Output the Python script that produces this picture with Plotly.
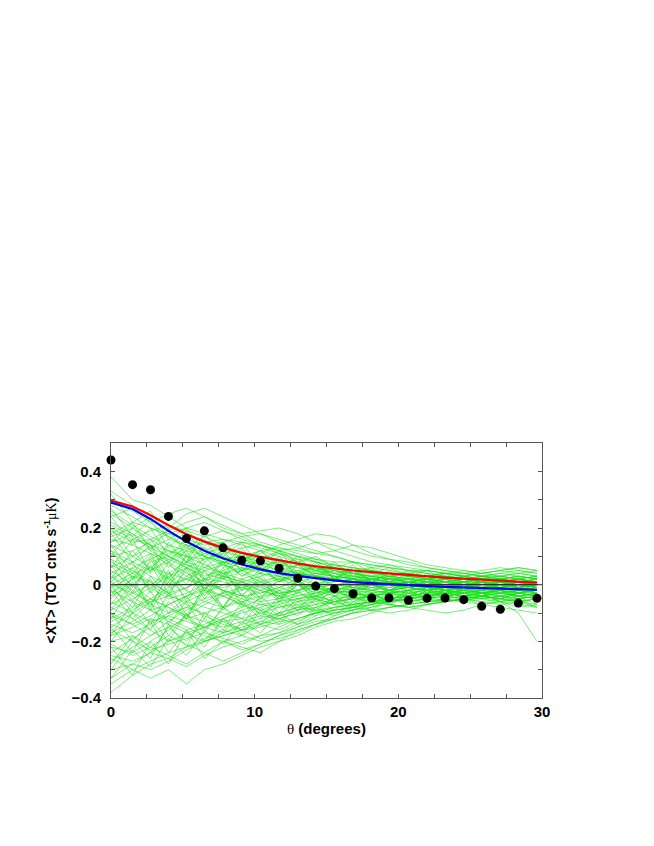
import plotly.graph_objects as go

# angular bins (degrees)
theta = [0, 1.5, 2.75, 4.0, 5.25, 6.5, 7.8, 9.1, 10.4, 11.7, 13.0, 14.25,
         15.55, 16.85, 18.15, 19.35, 20.7, 22.0, 23.25, 24.55, 25.8, 27.1, 28.35, 29.65]

# measured cross-correlation (black dots)
xt_data = [0.44, 0.353, 0.335, 0.241, 0.163, 0.19, 0.13, 0.086, 0.084, 0.058, 0.023, -0.005,
           -0.014, -0.032, -0.047, -0.047, -0.055, -0.048, -0.047, -0.053, -0.076, -0.087, -0.065, -0.048]

# model curves
model_red = [0.297, 0.276, 0.245, 0.21, 0.178, 0.152, 0.13, 0.112, 0.098, 0.085, 0.074, 0.065,
             0.057, 0.05, 0.044, 0.039, 0.034, 0.029, 0.025, 0.021, 0.017, 0.013, 0.01, 0.007]
model_blue = [0.29, 0.267, 0.232, 0.19, 0.152, 0.12, 0.093, 0.071, 0.054, 0.041, 0.031, 0.022,
              0.015, 0.009, 0.005, 0.001, -0.002, -0.005, -0.008, -0.01, -0.012, -0.014, -0.016, -0.018]

# simulated realisations (green), in units of 0.01
sims = [
    [38, 30, 28, 24, 20, 18, 16, 15, 14, 12, 10, 8, 7, 6, 5, 4, 3, 3, 4, 3, 2, 2, 3, 2],
    [-38, -32, -28, -26, -22, -20, -18, -16, -15, -13, -12, -10, -9, -8, -6, -5, -6, -5, -4, -5, -4, -6, -10, -20],
    [30, 26, 22, 25, 27, 24, 20, 18, 19, 20, 18, 15, 12, 10, 8, 7, 5, 4, 3, 2, 3, 2, 2, 1],
    [-35, -30, -33, -30, -35, -30, -28, -25, -22, -20, -18, -15, -13, -12, -10, -8, -7, -6, -6, -5, -5, -4, -5, -4],
    [20, 16, 14, 12, 10, 9, 11, 13, 14, 12, 10, 9, 8, 8, 7, 6, 5, 5, 4, 4, 3, 3, 2, 3],
    [-20, -18, -22, -25, -28, -24, -20, -22, -24, -20, -16, -14, -12, -10, -8, -6, -5, -4, -3, -4, -3, -2, -3, -4],
    [10, 12, 15, 18, 20, 22, 19, 16, 14, 12, 13, 15, 14, 12, 10, 9, 8, 6, 5, 4, 3, 3, 4, 5],
    [-10, -14, -18, -15, -12, -10, -8, -6, -4, -3, -2, -1, 0, 1, 2, 1, 0, -1, -2, -1, 0, 1, 0, -1],
    [5, 0, -5, -8, -12, -15, -17, -14, -12, -10, -8, -9, -10, -8, -6, -5, -4, -3, -2, -3, -4, -3, -2, -2],
    [-5, 2, 8, 10, 7, 4, 2, 0, -2, -4, -6, -5, -3, -2, -1, 0, 1, 2, 1, 0, -1, -2, -1, 0],
    [15, 18, 14, 10, 6, 2, -2, -4, -3, -1, 2, 4, 5, 3, 1, 0, -1, 0, 1, 2, 3, 2, 1, 2],
    [-15, -10, -6, -2, 3, 6, 8, 9, 7, 5, 4, 3, 2, 1, 0, -2, -3, -4, -3, -2, -3, -4, -5, -4],
    [25, 20, 16, 12, 8, 6, 4, 5, 6, 4, 2, 0, -2, -3, -2, -1, 0, 1, 0, -1, 0, 1, 2, 1],
    [-25, -27, -24, -20, -17, -15, -13, -12, -14, -16, -13, -10, -8, -7, -6, -5, -4, -3, -2, -2, -1, 0, -1, -2],
    [0, 4, 6, 2, -2, -6, -8, -5, -2, 1, 3, 5, 6, 4, 2, 1, 2, 3, 4, 3, 2, 1, 0, 1],
    [8, 4, 0, -4, -6, -8, -10, -12, -10, -8, -7, -6, -4, -3, -4, -5, -6, -5, -4, -3, -2, -3, -4, -5],
    [-8, -12, -16, -20, -18, -15, -12, -10, -8, -6, -4, -2, -1, -2, -3, -2, -1, 0, 1, 2, 1, 0, -1, -2],
    [12, 8, 5, 8, 12, 15, 16, 14, 12, 10, 8, 6, 5, 4, 3, 2, 2, 1, 0, -1, 0, 1, 0, -1],
    [-30, -28, -24, -26, -29, -25, -22, -20, -18, -17, -15, -13, -12, -10, -9, -8, -7, -6, -5, -4, -3, -3, -4, -5],
    [18, 22, 20, 17, 14, 10, 7, 4, 1, -2, -4, -3, -1, 1, 2, 3, 4, 5, 4, 3, 2, 3, 4, 3],
    [-18, -15, -12, -14, -17, -20, -18, -16, -13, -10, -8, -7, -6, -5, -6, -7, -8, -7, -6, -5, -6, -7, -6, -5],
    [3, -2, -7, -10, -8, -5, -3, -6, -9, -11, -9, -7, -5, -4, -3, -2, -1, -2, -3, -2, -1, 0, 1, 0],
    [-3, 2, 6, 11, 14, 13, 10, 8, 6, 3, 1, -1, -2, -1, 0, 1, 2, 3, 2, 1, 2, 3, 2, 1],
    [22, 18, 12, 8, 4, 1, -2, -5, -7, -8, -6, -4, -2, 0, 1, 2, 3, 2, 1, 0, -1, -2, -1, 0],
    [-22, -24, -20, -16, -11, -7, -4, -2, 0, 2, 3, 4, 3, 2, 1, 0, -1, -2, -3, -4, -3, -2, -3, -2],
    [6, 10, 13, 16, 14, 11, 9, 10, 12, 13, 11, 9, 7, 6, 5, 4, 4, 3, 2, 3, 4, 5, 6, 5],
    [-12, -8, -5, -8, -11, -13, -15, -13, -11, -12, -14, -12, -10, -9, -7, -5, -4, -3, -4, -5, -6, -5, -4, -3],
    [16, 14, 11, 7, 3, 0, -1, 1, 3, 5, 7, 6, 4, 2, 0, -2, -3, -2, -1, 0, 1, 2, 1, 0],
    [-16, -20, -23, -21, -19, -17, -19, -21, -18, -15, -12, -10, -9, -8, -7, -6, -5, -4, -3, -2, -3, -4, -3, -2],
    [28, 24, 20, 18, 16, 14, 15, 17, 18, 16, 14, 12, 10, 8, 6, 5, 4, 3, 4, 5, 4, 3, 2, 3],
    [1, -4, -9, -13, -16, -14, -11, -8, -5, -2, 0, -1, -3, -4, -2, 0, 1, 2, 3, 2, 1, 2, 1, 0],
    [-1, 3, 1, -3, -1, 2, 4, 6, 4, 2, 0, -2, -4, -5, -4, -3, -2, -1, 0, -1, -2, -1, 0, 1],
    [13, 16, 19, 21, 19, 17, 14, 11, 9, 7, 6, 5, 4, 5, 6, 7, 6, 5, 4, 3, 4, 5, 6, 5],
    [-13, -9, -5, -1, 2, 0, -2, -4, -6, -5, -3, -1, 0, -1, -2, -3, -4, -3, -2, -3, -4, -5, -6, -7],
    [9, 5, 1, -3, -7, -11, -14, -16, -14, -11, -9, -8, -6, -5, -4, -3, -4, -5, -6, -5, -4, -5, -6, -5],
    [-27, -22, -18, -13, -9, -6, -3, -1, 1, 3, 4, 3, 2, 1, 2, 3, 2, 1, 0, 1, 2, 1, 0, -1],
    [19, 15, 16, 19, 22, 24, 21, 18, 15, 13, 12, 11, 10, 8, 7, 6, 5, 4, 3, 2, 1, 2, 3, 2],
    [-6, -10, -13, -11, -8, -10, -13, -16, -19, -17, -14, -11, -9, -8, -9, -10, -9, -7, -6, -5, -4, -5, -6, -8],
    [4, 8, 11, 9, 6, 3, 5, 8, 10, 9, 7, 5, 3, 2, 1, 0, -1, -2, -1, 0, 1, 0, -1, 0],
    [-9, -5, -1, 3, 6, 9, 12, 10, 8, 6, 4, 2, 0, -1, -2, -3, -2, -1, -2, -3, -2, -1, -2, -3],
    [24, 27, 23, 20, 25, 27, 24, 21, 18, 15, 13, 11, 12, 14, 13, 11, 9, 7, 6, 5, 4, 5, 4, 3],
    [-24, -19, -15, -11, -13, -15, -12, -9, -7, -6, -5, -4, -6, -8, -7, -5, -3, -2, -1, -2, -3, -2, -1, -2],
    [11, 7, 3, 0, 2, 5, 7, 5, 2, -1, -3, -5, -7, -6, -4, -3, -2, -1, -2, -3, -4, -3, -2, -3],
    [-11, -14, -11, -7, -4, -2, -4, -7, -9, -7, -5, -3, -2, -3, -4, -2, 0, 1, 2, 1, 0, -1, -2, -1],
    [2, 6, 9, 12, 10, 7, 4, 2, 0, -3, -5, -4, -2, 0, 1, 2, 1, 0, -1, 0, 1, 2, 3, 2],
    [-2, -6, -9, -7, -4, -1, 2, 5, 7, 8, 6, 4, 3, 2, 1, 0, -1, -2, -1, 0, -1, -2, -3, -2],
    [33, 28, 22, 17, 13, 10, 8, 6, 5, 4, 5, 6, 5, 4, 3, 2, 1, 0, -1, 0, 1, 0, -1, -2],
    [-33, -28, -30, -27, -23, -20, -17, -15, -13, -14, -12, -10, -8, -7, -6, -7, -8, -7, -6, -5, -4, -3, -4, -3],
    [7, 3, -1, -5, -3, 0, 3, 1, -2, -4, -2, 0, 2, 3, 2, 1, 0, -1, 0, 1, 2, 1, 2, 3],
    [-7, -3, 0, 4, 8, 11, 13, 15, 13, 11, 9, 8, 6, 5, 4, 3, 2, 1, 2, 3, 2, 1, 0, 1],
    [14, 10, 6, 4, 2, -1, -4, -7, -10, -12, -10, -8, -6, -5, -4, -3, -2, -3, -4, -3, -2, -1, 0, -1],
    [-14, -17, -14, -10, -6, -3, 0, 2, 4, 3, 1, -1, -3, -2, -1, 0, 1, 0, -1, -2, -1, 0, 1, 0],
    [17, 20, 24, 21, 18, 15, 12, 9, 11, 14, 16, 18, 17, 14, 11, 9, 7, 6, 5, 4, 5, 6, 5, 4],
    [-17, -13, -9, -12, -15, -18, -20, -23, -21, -18, -15, -12, -10, -9, -8, -7, -8, -9, -10, -9, -7, -6, -7, -8],
    [0, -3, -6, -4, -1, 2, 1, -1, -3, -1, 1, 3, 2, 0, -1, -2, -1, 0, 1, 0, -1, 0, 1, 0],
    [21, 17, 13, 10, 7, 5, 3, 1, -1, -3, -2, 0, 1, 2, 3, 4, 3, 2, 1, 2, 3, 4, 3, 2],
    [-21, -25, -22, -18, -21, -24, -27, -24, -21, -18, -16, -14, -12, -10, -9, -8, -7, -6, -5, -4, -5, -6, -5, -4],
    [26, 21, 17, 14, 12, 10, 8, 7, 9, 11, 10, 8, 6, 4, 3, 2, 1, 2, 3, 2, 1, 0, 1, 2],
    [-4, 0, 5, 9, 13, 17, 19, 17, 14, 11, 8, 6, 4, 3, 2, 1, 0, -1, 0, 1, 0, -1, 0, -1],
    [-26, -30, -27, -24, -22, -19, -16, -18, -20, -19, -17, -14, -11, -9, -7, -6, -5, -4, -3, -4, -5, -4, -3, -2],
    [18, 8, 14, 2, 10, -2, 6, -4, 3, -6, 0, -5, -1, -6, -3, -7, -4, -6, -2, -5, -1, -3, 0, -2],
    [-18, -6, -14, -3, -12, 0, -8, 2, -5, 3, -2, 1, -4, 0, -3, 1, -2, 2, -1, 1, -2, 0, -3, -1],
    [6, 16, 4, 14, 8, 18, 10, 15, 6, 12, 4, 9, 2, 7, 1, 5, 0, 4, -1, 3, 0, 2, -1, 1],
    [-30, -20, -26, -14, -22, -10, -16, -6, -12, -4, -9, -2, -7, -1, -6, 0, -4, -1, -5, -2, -4, -1, -3, -2],
    [0, -10, -2, -14, -6, -16, -8, -12, -4, -10, -2, -7, -1, -5, 1, -3, 2, -2, 0, -3, -1, -4, -2, -3],
    [12, 2, 10, 0, 6, -4, 4, -2, 6, 1, 7, 3, 5, 2, 4, 1, 3, 0, 2, -1, 1, -2, 0, -1],
    [-12, 0, -8, 4, -2, 8, 2, 10, 4, 8, 3, 6, 1, 4, 0, 2, -1, 1, -2, 0, -3, -1, -2, 0],
    [24, 14, 20, 10, 16, 8, 12, 5, 9, 4, 7, 3, 6, 2, 5, 1, 4, 0, 3, -1, 2, 0, 1, -1],
    [-22, -32, -20, -28, -16, -22, -12, -18, -9, -14, -7, -11, -5, -9, -4, -7, -3, -5, -2, -4, -3, -6, -4, -7],
    [4, -6, 2, -10, -4, -12, -2, -8, 0, -6, 2, -4, 3, -2, 1, -3, 0, -4, -2, -5, -3, -6, -5, -8],
    [-4, 6, -2, 8, 0, 10, 3, 12, 5, 9, 4, 7, 2, 5, 1, 3, 0, 2, -1, 1, -2, 0, -1, 1],
    [15, 22, 12, 20, 10, 16, 7, 13, 5, 10, 3, 8, 2, 6, 1, 4, 0, 3, -1, 2, 0, 1, -1, 0],
    [-15, -24, -12, -20, -10, -17, -8, -14, -6, -11, -5, -9, -4, -7, -3, -6, -2, -5, -3, -6, -4, -5, -3, -4],
    [9, -1, 7, -3, 5, -5, 3, -7, 1, -5, 0, -3, -1, -2, 0, -1, 1, 0, 2, 1, 3, 2, 1, 2],
    [-9, 1, -7, 3, -5, 5, -3, 6, -1, 4, 0, 3, 1, 2, 0, 1, -1, 0, -2, -1, -3, -2, -4, -3],
    [32, 22, 26, 16, 20, 12, 15, 9, 12, 7, 9, 5, 7, 4, 5, 3, 4, 2, 3, 1, 2, 1, 2, 1],
    [-2, -12, -6, -18, -10, -20, -12, -16, -8, -13, -6, -10, -4, -8, -3, -6, -2, -5, -1, -4, -2, -5, -3, -4],
    [2, 12, 5, 15, 8, 13, 6, 11, 4, 9, 3, 7, 2, 5, 1, 4, 0, 3, 1, 2, 0, 1, -1, 0],
    [-28, -18, -24, -15, -20, -12, -17, -9, -14, -7, -11, -5, -9, -4, -7, -3, -6, -2, -5, -1, -4, -2, -5, -3],
    [10, 20, 14, 6, 12, 2, 8, -2, 4, -4, 1, -6, -2, -5, -3, -6, -4, -7, -5, -6, -4, -5, -3, -4],
    [-10, -20, -13, -24, -16, -26, -20, -18, -14, -12, -10, -9, -8, -7, -6, -6, -5, -4, -5, -6, -7, -8, -9, -10],
    [20, 10, 16, 8, 14, 6, 11, 5, 9, 12, 8, 10, 6, 8, 4, 6, 3, 5, 2, 4, 3, 4, 5, 4],
    [-20, -10, -16, -6, -12, -2, -8, 1, -5, 2, -3, 3, -1, 2, -2, 1, -3, 0, -4, -1, -3, -2, -4, -3],
    [1, 8, -3, 5, -6, 2, -8, 0, -6, -2, -8, -4, -6, -3, -5, -2, -4, -1, -3, 0, -2, -1, -3, -2],
    [-1, -8, 3, -4, 6, 0, 8, 3, 6, 1, 4, 0, 3, -1, 2, -2, 1, -3, 0, -2, -1, -3, -2, -1],
    [27, 17, 23, 13, 19, 10, 15, 8, 12, 6, 10, 4, 8, 3, 6, 2, 5, 1, 4, 0, 3, 1, 2, 0],
    [-33, -23, -29, -19, -25, -16, -21, -13, -17, -10, -14, -8, -11, -6, -9, -5, -7, -4, -6, -5, -7, -6, -8, -7],
    [7, -3, 9, -1, 11, 1, 9, 3, 7, 1, 5, 2, 4, 1, 3, 0, 2, -1, 1, -2, 0, -1, 1, 0],
    [-7, 3, -9, 1, -11, -1, -9, -3, -11, -6, -9, -5, -7, -4, -6, -3, -5, -2, -4, -3, -5, -4, -6, -5],
    [14, 4, 11, 1, 8, -2, 5, -4, 2, -5, 0, -4, -1, -3, 0, -2, 1, -1, 2, 0, 1, -1, 0, 1],
]

fig = go.Figure()

# --- green simulations ---
for s in sims:
    fig.add_trace(go.Scatter(
        x=theta, y=[v / 100 for v in s], mode="lines",
        line=dict(color="rgba(20,225,20,0.8)", width=0.7),
        showlegend=False, hoverinfo="skip",
    ))

# zero reference line
fig.add_trace(go.Scatter(
    x=[0, 30], y=[0, 0], mode="lines",
    line=dict(color="#333333", width=1.2), showlegend=False,
))

# --- model curves ---
fig.add_trace(go.Scatter(x=theta, y=model_red, mode="lines",
                         line=dict(color="#ff0000", width=2.2), showlegend=False))
fig.add_trace(go.Scatter(x=theta, y=model_blue, mode="lines",
                         line=dict(color="#0000ff", width=2.2), showlegend=False))

# --- data points ---
fig.add_trace(go.Scatter(x=theta, y=xt_data, mode="markers",
                         marker=dict(color="black", size=9), showlegend=False,
                         cliponaxis=False))

axis_common = dict(
    showgrid=False, zeroline=False, showline=True, linecolor="#555555", linewidth=1,
    mirror="allticks", ticks="inside", ticklen=4, tickcolor="#555555",
    tickfont=dict(family="Liberation Sans", size=15, color="black", weight="bold"),
)

fig.update_xaxes(range=[0, 30], tickvals=[0, 10, 20, 30],
                 minor=dict(dtick=2.5, ticks="inside", ticklen=4, tickcolor="#555555"),
                 **axis_common)
fig.update_yaxes(range=[-0.4, 0.5], tickvals=[-0.4, -0.2, 0, 0.2, 0.4],
                 ticktext=["\u22120.4", "\u22120.2", "0", "0.2", "0.4"],
                 ticklabelstandoff=6,
                 minor=dict(dtick=0.1, ticks="inside", ticklen=4, tickcolor="#555555"),
                 **axis_common)

fig.add_annotation(
    text="<span style='font-family:Liberation Serif'>θ</span><b> (degrees)</b>",
    xref="paper", yref="paper", x=0.5, y=-0.119, xanchor="center", yanchor="middle",
    showarrow=False, font=dict(family="Liberation Sans", size=15, color="black"),
)
fig.add_annotation(
    text="<b>&lt;XT&gt; (TOT cnts s<sup>-1</sup></b><span style='font-family:Liberation Serif'>μK</span><b>)</b>",
    xref="paper", yref="paper", x=-0.1415, y=0.5, xanchor="center", yanchor="middle",
    textangle=-90, showarrow=False,
    font=dict(family="Liberation Sans", size=14, color="black"),
)

# the page body adds an 8 px offset, so margins are shifted to compensate
fig.update_layout(
    width=654, height=846,
    margin=dict(l=103, r=120, t=435, b=156),
    paper_bgcolor="white", plot_bgcolor="white",
    showlegend=False,
)

fig.write_html("out.html")
